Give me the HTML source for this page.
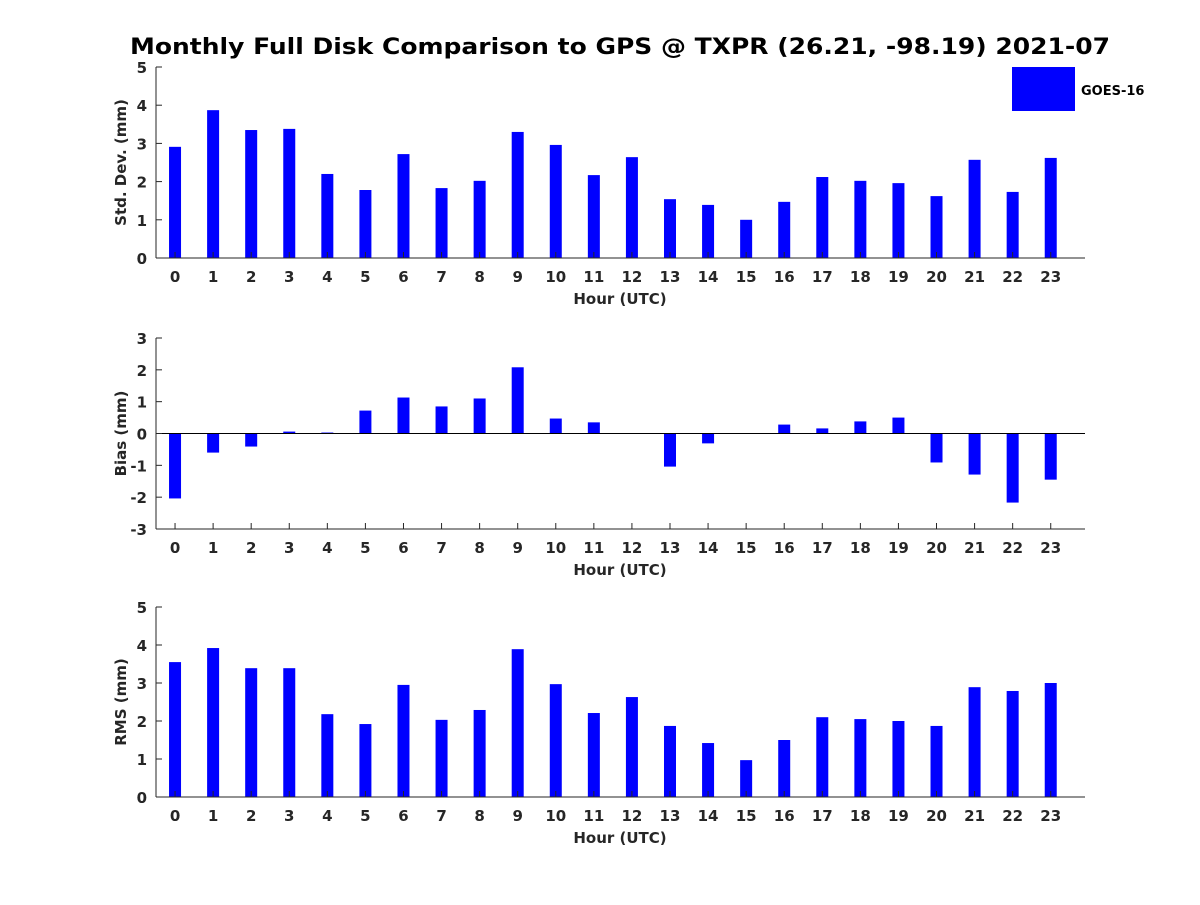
<!DOCTYPE html>
<html><head><meta charset="utf-8"><style>
body{margin:0;background:#fff}
svg text{font-family:"DejaVu Sans","Liberation Sans",sans-serif;font-weight:bold;fill:#262626}
</style></head><body>
<svg id="chart" width="1200" height="900" xmlns="http://www.w3.org/2000/svg">
<rect width="1200" height="900" fill="#fff"/>
<text x="620" y="54" text-anchor="middle" font-size="22" textLength="980" lengthAdjust="spacingAndGlyphs" style="fill:#000">Monthly Full Disk Comparison to GPS @ TXPR (26.21, -98.19) 2021-07</text>
<g>
<rect x="1012" y="67" width="63" height="44" fill="#0000ff"/>
<text x="1081" y="95" font-size="13" style="fill:#000">GOES-16</text>
</g>
</svg>
<script>
const hours = [0,1,2,3,4,5,6,7,8,9,10,11,12,13,14,15,16,17,18,19,20,21,22,23];
const stdDev = [2.91,3.87,3.35,3.38,2.2,1.78,2.72,1.83,2.02,3.3,2.96,2.17,2.64,1.54,1.39,1.0,1.47,2.12,2.02,1.96,1.62,2.57,1.73,2.62];
const bias = [-2.04,-0.6,-0.41,0.06,0.03,0.72,1.13,0.85,1.1,2.08,0.47,0.35,0,-1.04,-0.31,0,0.28,0.16,0.38,0.5,-0.91,-1.29,-2.17,-1.45];
const rms = [3.55,3.92,3.39,3.39,2.18,1.92,2.95,2.03,2.29,3.89,2.97,2.21,2.63,1.87,1.42,0.97,1.5,2.1,2.05,2.0,1.87,2.89,2.79,3.0];
const ticks1 = [0,1,2,3,4,5];
const ticks2 = [-3,-2,-1,0,1,2,3];
const ticks3 = [0,1,2,3,4,5];

const NS="http://www.w3.org/2000/svg";
const svg=document.getElementById('chart');
function mk(tag,attrs,parent){const e=document.createElementNS(NS,tag);for(const k in attrs)e.setAttribute(k,attrs[k]);(parent||svg).appendChild(e);return e;}
const X0=156,X1=1085,XMIN=-0.5,XMAX=23.9;
function xs(v){return X0+(v-XMIN)/(XMAX-XMIN)*(X1-X0);}

function panel(name,top,bottom,ymin,ymax,ticks,vals,ylabel){
  const g=mk('g',{});
  
  
  const ys=v=>bottom-(v-ymin)/(ymax-ymin)*(bottom-top);
  vals.forEach((v,i)=>{
    const y0=ys(0),y1=ys(v);
    const r=mk('rect',{x:xs(hours[i])-6,y:Math.min(y0,y1),width:12,height:Math.max(0.5,Math.abs(y1-y0)),fill:'#0000ff'},g);
    
    
  });
  if(ymin<0){mk('line',{x1:X0,x2:X1,y1:ys(0),y2:ys(0),stroke:'#000','stroke-width':1},g);}
  const ya=mk('line',{x1:X0,x2:X0,y1:top,y2:bottom,stroke:'#262626','stroke-width':1},g);
  
  
  const xa=mk('line',{x1:X0,x2:X1,y1:bottom,y2:bottom,stroke:'#262626','stroke-width':1},g);
  
  
  ticks.forEach(t=>{
    mk('line',{x1:X0,x2:X0+6,y1:ys(t),y2:ys(t),stroke:'#262626'},g);
    const tx=mk('text',{x:X0-9,y:ys(t)+6,'text-anchor':'end','font-size':15},g);
    tx.textContent=t;
    
    
  });
  hours.forEach(h=>{
    mk('line',{x1:xs(h),x2:xs(h),y1:bottom,y2:bottom-6,stroke:'#262626'},g);
    const tx=mk('text',{x:xs(h),y:bottom+24,'text-anchor':'middle','font-size':15},g);
    tx.textContent=h;
    
    
  });
  const xl=mk('text',{x:620,y:bottom+46,'text-anchor':'middle','font-size':15},g);
  xl.textContent='Hour (UTC)';
  
  
  const cy=(top+bottom)/2;
  const yl=mk('text',{x:126,y:cy,'text-anchor':'middle','font-size':15,transform:'rotate(-90 126 '+cy+')'},g);
  yl.textContent=ylabel;
  
  
}
panel('std-dev',67,258,0,5,ticks1,stdDev,'Std. Dev. (mm)');
panel('bias',338,529,-3,3,ticks2,bias,'Bias (mm)');
panel('rms',607,797,0,5,ticks3,rms,'RMS (mm)');
</script>
</body></html>
